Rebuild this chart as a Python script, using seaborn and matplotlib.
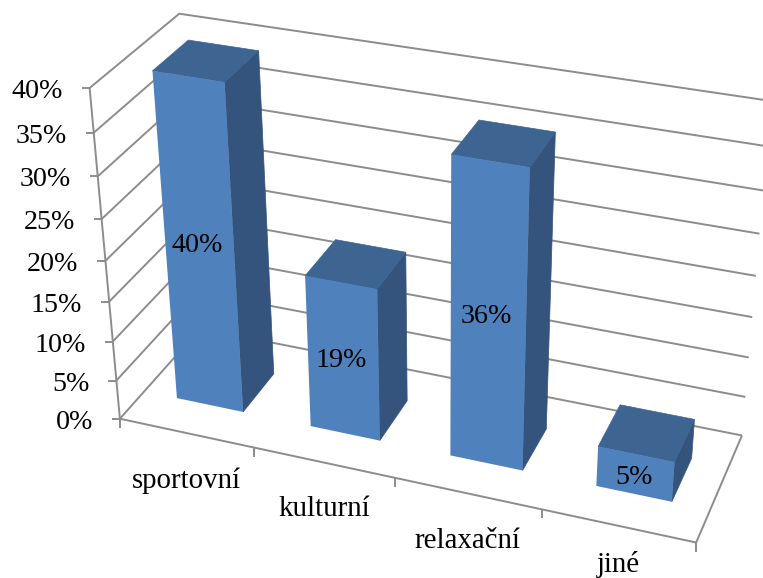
import numpy as np
import matplotlib
matplotlib.use("Agg")
import matplotlib.pyplot as plt
from matplotlib.patches import Polygon
from matplotlib.transforms import Transform, Affine2D
import seaborn as sns

categories = ["sportovní", "kulturní", "relaxační", "jiné"]
values = [40, 19, 36, 5]
axis_ticks = [0, 5, 10, 15, 20, 25, 30, 35, 40]

W, H = 763, 578
FRONT_C, SIDE_C, TOP_C = "#4F81BD", "#34547E", "#3E6492"
GRID_C = "#8C8C8C"
BAR_W = 0.5
D0, D1 = 0.29, 0.7
X0, X1 = -0.5, 3.5
VMAX = 40
FS_NUM = 20.2
FS_CAT = 20.8
label_dy = [55, 53, 55, 46]

# camera calibration: chart-space (category, percent, depth) -> image pixel
anchors = [
    ((-0.5, 0, 0), (120, 419)), ((0.5, 0, 0), (255, 448)), ((1.5, 0, 0), (395, 478)),
    ((2.5, 0, 0), (542, 509)), ((3.5, 0, 0), (696, 543)), ((3.5, 0, 1), (742, 435)),
    ((-0.5, 40, 0), (90, 88)), ((-0.5, 20, 0), (105, 260)), ((-0.5, 40, 1), (179, 14)),
    ((3.5, 40, 1), (771, 101)), ((3.5, 20, 1), (756, 276)),
]
A = []
for (x, v, d), (u, t) in anchors:
    A.append([x, v, d, 1, 0, 0, 0, 0, -u*x, -u*v, -u*d, -u])
    A.append([0, 0, 0, 0, x, v, d, 1, -t*x, -t*v, -t*d, -t])
P = np.linalg.svd(np.array(A, float))[2][-1].reshape(3, 4)


def project(x, v, d):
    x, v, d = np.broadcast_arrays(x, v, d)
    q = P @ np.vstack([x.ravel(), v.ravel(), d.ravel(), np.ones(x.size)])
    return np.column_stack([q[0] / q[2], q[1] / q[2]])


class DepthPlane(Transform):
    """Maps (category, percent) at a given depth to display pixels."""
    input_dims = output_dims = 2
    is_separable = False
    has_inverse = False

    def __init__(self, plane_depth):
        super().__init__()
        self.plane_depth = plane_depth

    def transform_non_affine(self, xy):
        xy = np.asarray(xy, float)
        p = project(xy[:, 0], xy[:, 1], self.plane_depth)
        return np.column_stack([p[:, 0], H - p[:, 1]])


sns.set_theme(style="white")
plt.rcParams["font.family"] = ["Liberation Serif", "DejaVu Serif"]
fig = plt.figure(figsize=(W / 100, H / 100), dpi=100, facecolor="white")
ax = fig.add_axes([0, 0, 1, 1])
sns.barplot(x=categories, y=values, color=FRONT_C, saturation=1, width=BAR_W, ax=ax, linewidth=0)
ax.axis("off")
px = Affine2D().scale(1, -1).translate(0, H)


def seg(p, lw=1.4, z=1):
    ax.plot(p[:, 0], p[:, 1], color=GRID_C, lw=lw, transform=px, zorder=z,
            clip_on=False, solid_capstyle="butt", solid_joinstyle="miter")


# walls and axes
for v in axis_ticks:
    seg(project([X0, X0, X1], v, [0, 1, 1]))
    a = project(X0, v, 0)[0]
    seg(np.array([a, a + [-8, 0]]))
    ax.text(a[0] - 27, a[1] + 10, f"{v}%", transform=px, ha="right", va="baseline",
            fontsize=FS_NUM, color="black", clip_on=False)
seg(project(X0, [0, VMAX], 0))
seg(project([X0, X1, X1], 0, [0, 0, 1]))
for x in np.arange(X0, X1 + 0.5):
    a = project(x, 0, 0)[0]
    seg(np.array([a, a + [0, 9]]))

# bars: front faces come from seaborn, side and top from the same camera
front_plane = DepthPlane(D0)
for i, (bar, v) in enumerate(zip(ax.patches, values)):
    bar.set_transform(front_plane)
    bar.set_clip_on(False)
    bar.set_zorder(5)
    xl, xr = i - BAR_W / 2, i + BAR_W / 2
    side = project([xr, xr, xr, xr], [0, v, v, 0], [D0, D0, D1, D1])
    top = project([xl, xr, xr, xl], v, [D0, D0, D1, D1])
    ax.add_patch(Polygon(side, closed=True, fc=SIDE_C, ec=SIDE_C, lw=0.5, transform=px, zorder=4, clip_on=False))
    ax.add_patch(Polygon(top, closed=True, fc=TOP_C, ec=TOP_C, lw=0.5, transform=px, zorder=4, clip_on=False))
    c = project(i, v * 0.52, D0)[0]
    ax.text(c[0] - 1.5, c[1] + 11, f"{v}%", transform=px, ha="center", va="baseline",
            fontsize=FS_NUM, color="black", zorder=6, clip_on=False)
    lab = project(i, 0, 0)[0]
    ax.text(lab[0], lab[1] + label_dy[i], categories[i], transform=px, ha="center", va="baseline",
            fontsize=FS_CAT, color="black", clip_on=False)

fig.savefig("out.png", dpi=100, facecolor="white")
